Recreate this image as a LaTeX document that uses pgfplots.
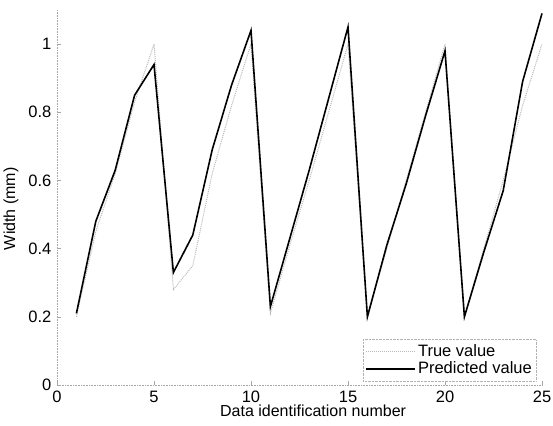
\documentclass[border=0pt]{standalone}
\usepackage{fontspec}
\setmainfont{Liberation Sans}
\usepackage{pgfplots}
\pgfplotsset{compat=1.18}
\begin{document}
\fontsize{16.5}{19}\selectfont
\begin{tikzpicture}
\begin{axis}[
  scale only axis, width=485pt, height=375pt,
  xmin=0, xmax=25, ymin=0, ymax=1.1,
  axis x line=bottom, axis y line=left,
  axis line style={-, gray!70, densely dotted, line width=0.6pt},
  xtick={0,5,10,15,20,25},
  ytick={0,0.2,0.4,0.6,0.8,1},
  yticklabels={0,0.2,0.4,0.6,0.8,1},
  tick style={gray!70, line width=0.5pt},
  tick align=inside, major tick length=4pt,
  tick label style={font=\fontsize{16.5}{19}\selectfont, black},
  /pgf/number format/assume math mode=true,
  xlabel={Data identification number},
  ylabel={Width (mm)},
  label style={font=\fontsize{16}{19}\selectfont},
  xlabel style={at={(axis description cs:0.528,0)}, anchor=center, yshift=-26pt},
  ylabel style={at={(axis description cs:-0.095,0.47)}, anchor=center, rotate=0},
  legend style={at={(axis description cs:1,0.01)}, anchor=south east, xshift=-6pt,
    draw=gray!60, densely dotted, fill=white, font=\fontsize{16.5}{19}\selectfont,
    inner xsep=2pt, inner ysep=3pt, row sep=-1pt,
    cells={anchor=west}},
  legend image code/.code={\path (-10pt,0pt) -- (39pt,0pt); \draw[#1, solid] (0pt,0pt) -- (33pt,0pt);},
  clip=false,
]
\addplot[gray!55, densely dotted, line width=1pt, legend image code/.code={\path (-10pt,0pt) -- (39pt,0pt); \draw[gray!55, densely dotted, line width=1pt] (0pt,0pt) -- (33pt,0pt);}] coordinates {
(1,0.20) (2,0.45) (3,0.62) (4,0.83) (5,1.00) (6,0.28) (7,0.35) (8,0.62) (9,0.82) (10,1.00)
(11,0.21) (12,0.41) (13,0.60) (14,0.80) (15,1.00) (16,0.20) (17,0.40) (18,0.60) (19,0.80) (20,1.00)
(21,0.20) (22,0.40) (23,0.60) (24,0.82) (25,1.00)};
\addlegendentry{True value}
\addplot[black, line width=1.6pt] coordinates {
(1,0.21) (2,0.48) (3,0.63) (4,0.85) (5,0.94) (6,0.33) (7,0.44) (8,0.69) (9,0.88) (10,1.04)
(11,0.23) (12,0.43) (13,0.63) (14,0.84) (15,1.05) (16,0.20) (17,0.41) (18,0.59) (19,0.79) (20,0.98)
(21,0.20) (22,0.39) (23,0.57) (24,0.89) (25,1.09)};
\addlegendentry{Predicted value\hspace{14pt}}
\end{axis}
\pgfresetboundingbox
\useasboundingbox (-57pt,-40pt) rectangle (496pt,385pt);
\end{tikzpicture}
\end{document}
